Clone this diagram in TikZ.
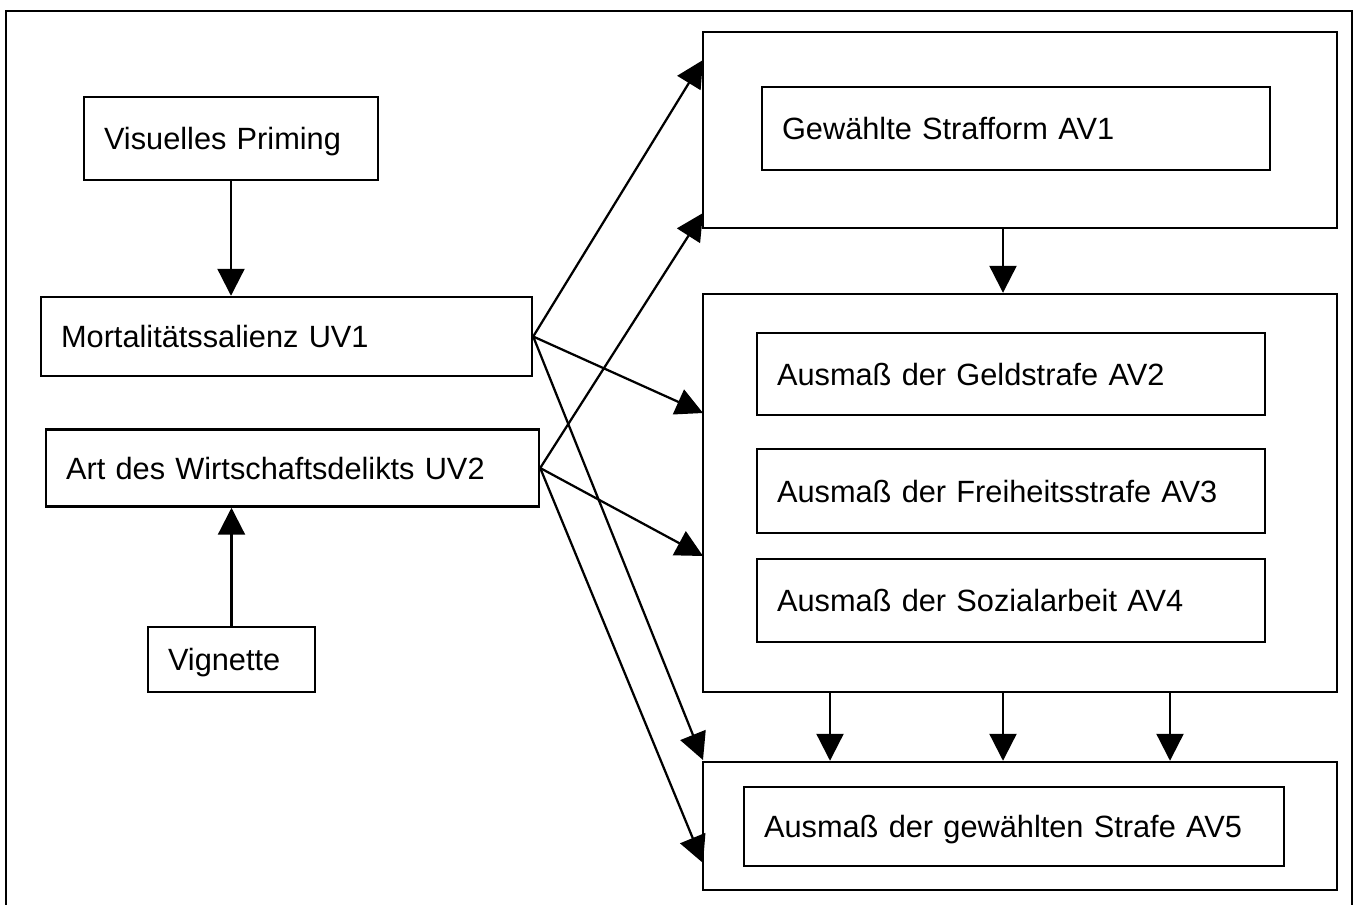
\documentclass[tikz,border=0pt]{standalone}
\usepackage{fontspec}
\setmainfont{Liberation Sans}
\usetikzlibrary{arrows.meta}

\tikzset{
  box/.style={draw, line width=.05cm, align=left, inner xsep=.4cm, inner ysep=0pt,
    text height=.44cm, text depth=0pt, font=\fontsize{17.5}{21}\selectfont},
  group/.style={draw, line width=.05cm, inner sep=0pt, minimum width=12.68cm},
  arr/.style={line width=.045cm, -{Triangle[length=.54cm, width=.54cm]}}
}

\begin{document}
\begin{tikzpicture}[x=.02cm, y=-.02cm]

        \useasboundingbox (0,0) rectangle (1359,904);
        \clip (0,0) rectangle (1359,904);
        \draw[line width=.05cm] (6,11) rectangle (1352,920);

        % linke Seite
        \node[box, text width=5.08cm, minimum height=1.66cm] (prim) at (231,138.5) {Visuelles Priming};
        \node[box, text width=9.02cm, minimum height=1.58cm] (uv1)  at (286.5,336.5) {Mortalitätssalienz UV1};
        \node[box, text width=9.06cm, minimum height=1.54cm] (uv2)  at (292.5,468) {Art des Wirtschaftsdelikts UV2};
        \node[box, text width=2.54cm, minimum height=1.30cm] (vig)  at (231.5,659.5) {Vignette};

        % rechte Seite
        \node[group, minimum height=3.92cm] (grpA) at (1020,130) {};
        \node[group, minimum height=7.96cm] (grpB) at (1020,493) {};
        \node[group, minimum height=2.56cm] (grpC) at (1020,826) {};

        \node[box, text width=9.36cm, minimum height=1.66cm] (av1) at (1016,128.5) {Gewählte Strafform AV1};
        \node[box, text width=9.36cm, minimum height=1.64cm] (av2) at (1011,374) {Ausmaß der Geldstrafe AV2};
        \node[box, text width=9.36cm, minimum height=1.68cm] (av3) at (1011,491) {Ausmaß der Freiheitsstrafe AV3};
        \node[box, text width=9.36cm, minimum height=1.66cm] (av4) at (1011,600.5) {Ausmaß der Sozialarbeit AV4};
        \node[box, text width=10cm,   minimum height=1.58cm] (av5) at (1014,826.5) {Ausmaß der gewählten Strafe AV5};

        \coordinate (tA1) at (703,60);
        \coordinate (tA2) at (703,213);
        \coordinate (tB1) at (703,413);
        \coordinate (tB2) at (703,556);
        \coordinate (tC1) at (703,760);
        \coordinate (tC2) at (703,863);

        \begin{scope}[every edge/.style={draw, arr}]
          \path (prim.south) edge (prim.south |- uv1.north);
          \path (vig.north)  edge (vig.north |- uv2.south);

          \path (uv1.east) edge (tA1);
          \path (uv1.east) edge (tB1);
          \path (uv1.east) edge (tC1);
          \path (uv2.east) edge (tA2);
          \path (uv2.east) edge (tB2);
          \path (uv2.east) edge (tC2);

          \path (grpA.south -| 1003,0) edge (grpB.north -| 1003,0);
          \foreach \x in {830,1003,1170}
            \path (grpB.south -| \x,0) edge (grpC.north -| \x,0);
        \end{scope}

      \end{tikzpicture}
\end{document}
